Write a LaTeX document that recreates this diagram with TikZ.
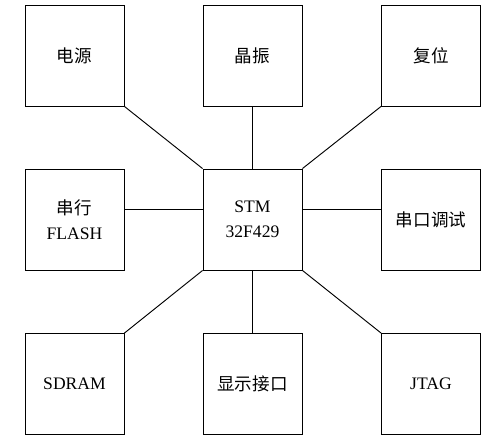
\documentclass[tikz,border=0pt]{standalone}
\usepackage{fontspec}
\setmainfont{Liberation Serif}
\newfontfamily\cjk{Noto Sans CJK SC}
\tikzset{blk/.style={draw, line width=0.8pt, minimum width=2.97cm, minimum height=3.03cm,
  align=center, inner sep=0pt, font=\fontsize{15}{21}\selectfont}}

\begin{document}
\begin{tikzpicture}[x=0.03cm, y=-0.03cm]
\useasboundingbox (0,0) rectangle (501,442);
\node[blk] (power) at (74.5,55.5) {\cjk 电源};
\node[blk] (osc) at (252.5,55.5) {\cjk 晶振};
\node[blk] (rst) at (431,55.5) {\cjk 复位};
\node[blk] (flash) at (74.5,219.5) {{\cjk 串行}\\FLASH};
\node[blk] (stm) at (252.5,219.5) {STM\\32F429};
\node[blk] (uart) at (431,219.5) {\cjk 串口调试};
\node[blk] (sdram) at (74.5,384) {SDRAM};
\node[blk] (disp) at (252.5,384) {\cjk 显示接口};
\node[blk] (jtag) at (431,384) {JTAG};

\draw [line width=0.8pt] (power.south east) -- (stm.north west);
\draw [line width=0.8pt] (osc) -- (stm);
\draw [line width=0.8pt] (rst.south west) -- (stm.north east);
\draw [line width=0.8pt] ([yshift=0.29cm]flash.east) -- ([yshift=0.29cm]stm.west);
\draw [line width=0.8pt] ([yshift=0.29cm]stm.east) -- ([yshift=0.29cm]uart.west);
\draw [line width=0.8pt] (sdram.north east) -- (stm.south west);
\draw [line width=0.8pt] (disp) -- (stm);
\draw [line width=0.8pt] (jtag.north west) -- (stm.south east);
\end{tikzpicture}
\end{document}
